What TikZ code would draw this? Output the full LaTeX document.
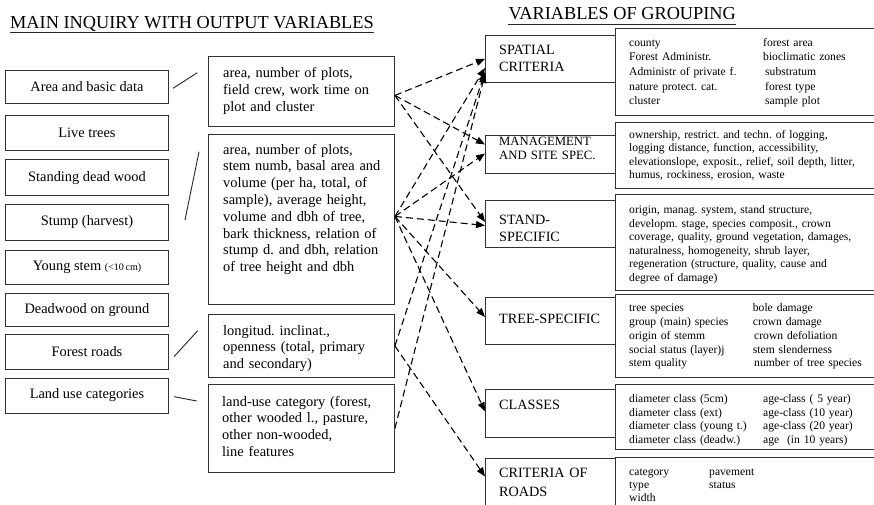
\documentclass[tikz,border=0pt]{standalone}
\usepackage{fontspec}
\setmainfont{Liberation Serif}
\usetikzlibrary{arrows.meta,calc}
\frenchspacing

\tikzset{
  box/.style={draw=black!80, line width=0.9pt, inner sep=0pt, anchor=north west},
  srcbox/.style={box, minimum width=163pt, font=\fontsize{14.4}{16}\selectfont, align=center},
  midbox/.style={box, minimum width=186pt},
  catbox/.style={box, minimum width=130pt},
  detbox/.style={box, minimum width=275pt},
  txt/.style={inner sep=0pt, anchor=base west, align=left},
  midtxt/.style={txt, text width=172pt, font=\fontsize{14.4}{16.8}\selectfont},
  cattxt/.style={txt, text width=112pt, font=\fontsize{14.2}{17}\selectfont},
  dettxt/.style={txt, text width=250pt, font=\fontsize{11.6}{13.5}\selectfont},
  ttl/.style={inner sep=0pt, anchor=base west, font=\fontsize{18.3}{20}\selectfont},
  tie/.style={line width=0.9pt, draw=black!85},
  link/.style={line width=1.1pt, dash pattern=on 7pt off 4pt, -{Triangle[length=9pt,width=7pt]}},
}

\begin{document}
\begin{tikzpicture}[x=1pt,y=-1pt]
\useasboundingbox (0,0) rectangle (874,505);
\fill[white] (0,0) rectangle (874,505);
\clip (0,0) rectangle (874,505);

% headings
\node[ttl] (title1) at (10,28.5) {MAIN INQUIRY WITH OUTPUT VARIABLES};
\draw[tie] ($(title1.base west)+(0,4)$) -- ($(title1.base east)+(0,4)$);
\node[ttl] (title2) at (508.3,20) {VARIABLES OF GROUPING};
\draw[tie] ($(title2.base west)+(0,4.5)$) -- ($(title2.base east)+(0,4.5)$);

% data sources
\node[srcbox, minimum height=33pt]   (s1) at (5,70)    {Area and basic data};
\node[srcbox, minimum height=35pt]   (s2) at (5,115)   {Live trees};
\node[srcbox, minimum height=35.5pt] (s3) at (5,159.5) {Standing dead wood};
\node[srcbox, minimum height=36pt]   (s4) at (5,204)   {Stump (harvest)};
\node[srcbox, minimum height=34.5pt] (s5) at (5,249.5) {Young stem {\fontsize{10}{10}\selectfont(<10\,cm)}};
\node[srcbox, minimum height=33.5pt] (s6) at (5,292.5) {Deadwood on ground};
\node[srcbox, minimum height=35pt]   (s7) at (5,333.5) {Forest roads};
\node[srcbox, minimum height=35pt]   (s8) at (5,377.5) {Land use categories};

% output variables
\node[midbox, minimum height=70pt]  (m1) at (208,56) {};
\node[midbox, minimum height=169pt] (m2) at (208,134.5) {};
\node[midbox, minimum height=63pt]  (m3) at (208,314) {};
\node[midbox, minimum height=88pt]  (m4) at (208,384) {};

\node[midtxt] (m1t) at (223,77.5) {area, number of plots,\\ field crew, work time on\\ plot and cluster};
\node[midtxt] (m2t) at (223,154) {area, number of plots,\\ stem numb, basal area and\\ volume (per ha, total, of\\ sample), average height,\\ volume and dbh of tree,\\ bark thickness, relation of\\ stump d. and dbh, relation\\ of tree height and dbh};
\node[midtxt] (m3t) at (223,335) {longitud. inclinat.,\\ openness (total, primary\\ and secondary)};
\node[midtxt] (m4t) at (222,406) {land-use category (forest,\\ other wooded l., pasture,\\ other non-wooded,\\ line features};

% brackets joining sources and outputs
\coordinate (t1a) at (173,88.3);  \coordinate (t1b) at (197.3,72.7);
\coordinate (t2a) at (185,220);   \coordinate (t2b) at (199,151.7);
\coordinate (t3a) at (174,356.7); \coordinate (t3b) at (197.7,330.7);
\coordinate (t4a) at (174,396.7); \coordinate (t4b) at (196.7,401);
\draw[tie] (t1a) -- (t1b);
\draw[tie] (t2a) -- (t2b);
\draw[tie] (t3a) -- (t3b);
\draw[tie] (t4a) -- (t4b);

% grouping criteria
\node[catbox, minimum height=47pt] (c1) at (485,35)  {};
\node[catbox, minimum height=38pt] (c2) at (485,135) {};
\node[catbox, minimum height=47pt] (c3) at (485,200) {};
\node[catbox, minimum height=47pt] (c4) at (485,297) {};
\node[catbox, minimum height=48pt] (c5) at (485,389) {};
\node[catbox, minimum height=60pt] (c6) at (485,458) {};

\node[cattxt, font=\fontsize{14.2}{16.7}\selectfont] (c1t) at (499,55) {SPATIAL\\ CRITERIA};
\node[cattxt, font=\fontsize{12.7}{14}\selectfont]   (c2t) at (499,145.5) {MANAGEMENT\\ AND SITE SPEC.};
\node[cattxt] (c3t) at (499,224.8) {STAND-\\ SPECIFIC};
\node[cattxt] (c4t) at (499,323.8) {TREE-SPECIFIC};
\node[cattxt] (c5t) at (499,409.8) {CLASSES};
\node[cattxt, font=\fontsize{14.2}{18.6}\selectfont] (c6t) at (499,477.8) {CRITERIA OF\\ ROADS};

% lists of grouping variables
\node[detbox, minimum height=86.7pt] (d1) at (615,28.3)  {};
\node[detbox, minimum height=66.6pt] (d2) at (615,121.7) {};
\node[detbox, minimum height=96pt]   (d3) at (615,194)   {};
\node[detbox, minimum height=82.7pt] (d4) at (615,294)   {};
\node[detbox, minimum height=65.3pt] (d5) at (615,384)   {};
\node[detbox, minimum height=60pt]   (d6) at (615,457.3) {};

\node[dettxt, font=\fontsize{11.6}{14.7}\selectfont] (d1a) at (629,46.2) {county\\ Forest Administr.\\ Administr of private f.\\ nature protect. cat.\\ cluster};
\node[dettxt, font=\fontsize{11.6}{14.7}\selectfont] (d1b) at (763,46.2) {forest area\\ bioclimatic zones\\ \hspace*{2pt}substratum\\ \hspace*{2pt}forest type\\ \hspace*{2pt}sample plot};
\node[dettxt, font=\fontsize{11.6}{13.4}\selectfont] (d2a) at (629,138.5) {ownership, restrict. and techn. of logging,\\ logging distance, function, accessibility,\\ elevationslope, exposit., relief, soil depth, litter,\\ humus, rockiness, erosion, waste};
\node[dettxt] (d3a) at (629,213.5) {origin, manag. system, stand structure,\\ developm. stage, species composit., crown\\ coverage, quality, ground vegetation, damages,\\ naturalness, homogeneity, shrub layer,\\ regeneration (structure, quality, cause and\\ degree of damage)};
\node[dettxt, font=\fontsize{11.6}{13.75}\selectfont] (d4a) at (629,311.8) {tree species\\ group (main) species\\ origin of stemm\\ social status (layer)j\\ stem quality};
\node[dettxt, font=\fontsize{11.6}{13.75}\selectfont] (d4b) at (752.7,311.8) {bole damage\\ crown damage\\ \hspace*{1.3pt}crown defoliation\\ stem slenderness\\ \hspace*{1.3pt}number of tree species};
\node[dettxt, font=\fontsize{11.6}{13.6}\selectfont] (d5a) at (629,402.5) {diameter class (5cm)\\ diameter class (ext)\\ diameter class (young t.)\\ diameter class (deadw.)};
\node[dettxt, font=\fontsize{11.6}{13.6}\selectfont] (d5b) at (763,402.5) {age-class ( 5 year)\\ age-class (10 year)\\ age-class (20 year)\\ age \ (in 10 years)};
\node[dettxt, font=\fontsize{11.6}{13}\selectfont] (d6a) at (629,475.2) {category\\ type\\ width};
\node[dettxt, font=\fontsize{11.6}{13}\selectfont] (d6b) at (709,475.2) {pavement\\ status};

% links from output variables to grouping criteria
\draw[link] ($(m1.east)+(0,4)$) -- (c1.west);
\draw[link] ($(m1.east)+(0,4)$) -- ($(c2.west)+(0,-10)$);
\draw[link] ($(m1.east)+(0,4)$) -- ($(c3.west)+(0,-2)$);
\draw[link] ($(m2.east)+(0,-3)$) -- ($(c1.west)+(0,9)$);
\draw[link] ($(m2.east)+(0,-3)$) -- ($(c2.west)+(0,-1)$);
\draw[link] ($(m2.east)+(0,-3)$) -- ($(c3.west)+(0,1.5)$);
\draw[link] ($(m2.east)+(0,-3)$) -- ($(c4.west)+(0,-4)$);
\draw[link] ($(m2.east)+(0,-3)$) -- ($(c5.west)+(0,-2)$);
\draw[link] (m3.east) -- ($(c1.west)+(0,13)$);
\draw[link] (m3.east) -- ($(c6.west)+(0,-12)$);
\draw[link] (m4.east) -- ($(c1.west)+(0,15)$);
\end{tikzpicture}
\end{document}
